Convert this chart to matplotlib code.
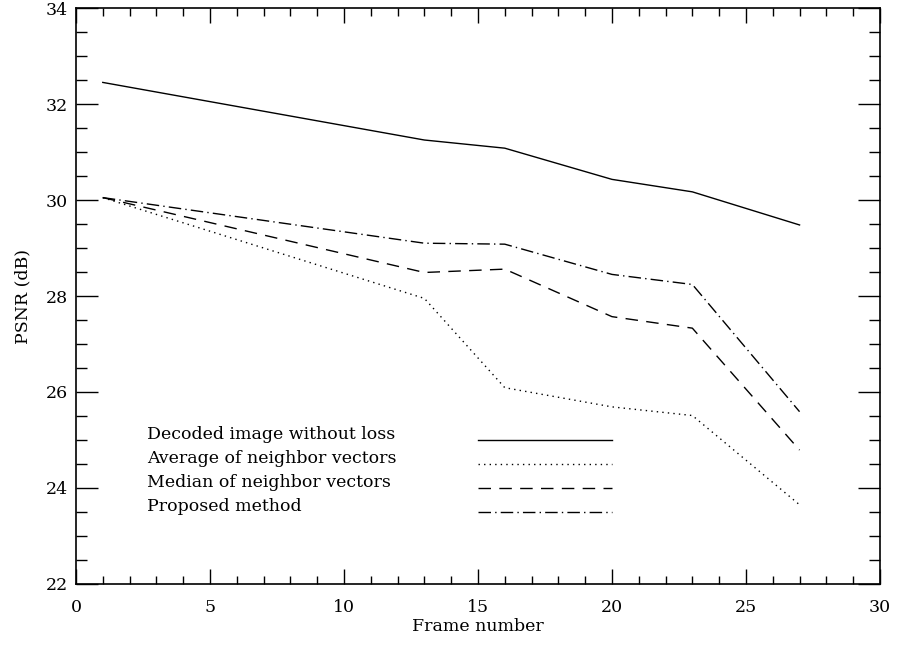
import matplotlib
matplotlib.use('Agg')
import matplotlib.pyplot as plt
from matplotlib.ticker import MultipleLocator

# PSNR vs frame number
frames = [1, 13, 16, 20, 23, 27]
lossless = [32.45, 31.25, 31.08, 30.43, 30.17, 29.48]
average = [30.05, 27.95, 26.09, 25.69, 25.51, 23.65]
median = [30.05, 28.49, 28.56, 27.57, 27.33, 24.79]
proposed = [30.05, 29.10, 29.08, 28.45, 28.24, 25.59]

labels = ["Decoded image without loss", "Average of neighbor vectors",
          "Median of neighbor vectors", "Proposed method"]
styles = ['-', (0, (1, 3)), (0, (9, 6)), (0, (9, 3, 1, 3))]

plt.rcParams['font.family'] = 'DejaVu Serif'

fig = plt.figure(figsize=(8.97, 6.47), dpi=100)
ax = fig.add_axes([0.0847, 0.0974, 0.8963, 0.8902])

series = [lossless, average, median, proposed]
for vals, ls in zip(series, styles):
    ax.plot(frames, vals, color='black', linestyle=ls, linewidth=1.0)

# legend drawn inside the plot as text + sample lines
leg_y = [25.0, 24.5, 24.0, 23.5]
for lab, ls, y in zip(labels, styles, leg_y):
    ax.text(2.65, y + 0.12, lab, fontsize=12.5, va='center', ha='left')
    ax.plot([15, 20], [y, y], color='black', linestyle=ls, linewidth=1.0)

ax.set_xlim(0, 30)
ax.set_ylim(22, 34)
ax.xaxis.set_major_locator(MultipleLocator(5))
ax.xaxis.set_minor_locator(MultipleLocator(1))
ax.yaxis.set_major_locator(MultipleLocator(2))
ax.yaxis.set_minor_locator(MultipleLocator(0.5))

ax.tick_params(which='both', direction='in', top=True, right=True, width=1.0)
ax.tick_params(axis='x', which='major', length=11, pad=11, labelsize=12.5)
ax.tick_params(axis='x', which='minor', length=6)
ax.tick_params(axis='y', which='major', length=16, pad=6, labelsize=12.5)
ax.tick_params(axis='y', which='minor', length=8)
for sp in ax.spines.values():
    sp.set_linewidth(1.2)

ax.set_xlabel("Frame number", fontsize=12.5, labelpad=1)
ax.set_ylabel("PSNR (dB)", fontsize=12.5, labelpad=10)

plt.savefig("out.png", dpi=100)
